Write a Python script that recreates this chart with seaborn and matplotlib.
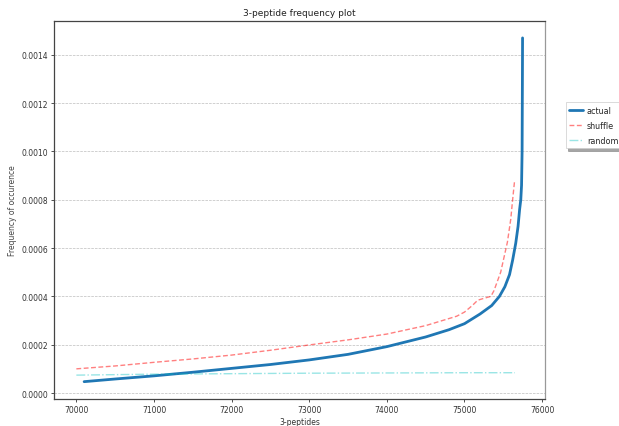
import matplotlib
matplotlib.use("Agg")
import matplotlib.pyplot as plt
import seaborn as sns

# Cumulative-ordered 3-peptide frequencies
actual_x = [70100, 70500, 71000, 71500, 72000, 72500, 73000, 73500, 74000, 74500,
            74800, 75000, 75200, 75350, 75450, 75520, 75580, 75620, 75660, 75690,
            75710, 75725, 75735, 75742, 75746, 75748]
actual_y = [0.000047, 0.000058, 0.000071, 0.000086, 0.000102, 0.000118, 0.000137,
            0.000160, 0.000192, 0.000232, 0.000262, 0.000287, 0.000327, 0.000362,
            0.000400, 0.000440, 0.000490, 0.000550, 0.000620, 0.000690, 0.000760,
            0.000800, 0.000860, 0.001000, 0.001300, 0.001470]

shuffle_x = [70000, 70500, 71000, 71500, 72000, 72500, 73000, 73500, 74000, 74500,
             74900, 75000, 75100, 75170, 75250, 75340, 75380, 75466, 75553, 75596,
             75620, 75644]
shuffle_y = [0.000100, 0.000112, 0.000127, 0.000141, 0.000157, 0.000177, 0.000199,
             0.000220, 0.000244, 0.000279, 0.000318, 0.000335, 0.000362, 0.000384,
             0.000392, 0.000400, 0.000424, 0.000500, 0.000625, 0.000720, 0.000800,
             0.000875]

random_x = [70000, 71000, 72000, 73000, 74000, 75000, 75650]
random_y = [0.000074, 0.000078, 0.000080, 0.000082, 0.000083, 0.000084, 0.000084]

sns.set_style("white")
plt.rcParams["font.family"] = ["DejaVu Sans"]

fig = plt.figure(figsize=(6.19, 4.27), dpi=100)
ax = fig.add_axes([54 / 619, 1 - 400 / 427, 491 / 619, 378 / 427])

sns.lineplot(x=actual_x, y=actual_y, ax=ax, color="#1f77b4", lw=2.0, label="actual",
             sort=False)
sns.lineplot(x=shuffle_x, y=shuffle_y, ax=ax, color="red", alpha=0.5, lw=1.0,
             linestyle="--", label="shuffle", sort=False, dashes=False)
ax.lines[-1].set_dashes([3.5, 1.8])
sns.lineplot(x=random_x, y=random_y, ax=ax, color="c", alpha=0.4, lw=1.0,
             linestyle="-.", label="random", sort=False)

ax.set_xlim(69712, 76037)
ax.set_ylim(-0.0000248, 0.00154)
ax.set_xticks([70000, 71000, 72000, 73000, 74000, 75000, 76000])
ax.set_yticks([0.0, 0.0002, 0.0004, 0.0006, 0.0008, 0.0010, 0.0012, 0.0014])
ax.set_yticklabels(["0.0000", "0.0002", "0.0004", "0.0006", "0.0008",
                    "0.0010", "0.0012", "0.0014"])

ax.yaxis.grid(True, linestyle="--", color="#bdbdbd", lw=0.5)
ax.xaxis.grid(False)
for s in ax.spines.values():
    s.set_color("#444444")
    s.set_linewidth(0.9)
ax.spines["right"].set_color("#999999")

ax.tick_params(axis="both", labelsize=5.5, length=2.5, width=0.6, colors="#333333",
               bottom=True, left=True, pad=2)
ax.set_title("3-peptide frequency plot", fontsize=6.5, color="#222222", pad=4)
ax.set_xlabel("3-peptides", fontsize=5.5, color="#333333", labelpad=2)
ax.set_ylabel("Frequency of occurence", fontsize=5.5, color="#444444", labelpad=3)

leg = ax.legend(loc="upper left", bbox_to_anchor=(1.042, 0.786), fontsize=5.8,
                frameon=True, shadow=True, fancybox=False, borderpad=0.45,
                handlelength=1.7, handletextpad=0.5, borderaxespad=0.0,
                labelspacing=0.75)
leg.get_frame().set_edgecolor("#cccccc")
leg.get_frame().set_linewidth(0.5)

fig.savefig("out.png", dpi=100)
